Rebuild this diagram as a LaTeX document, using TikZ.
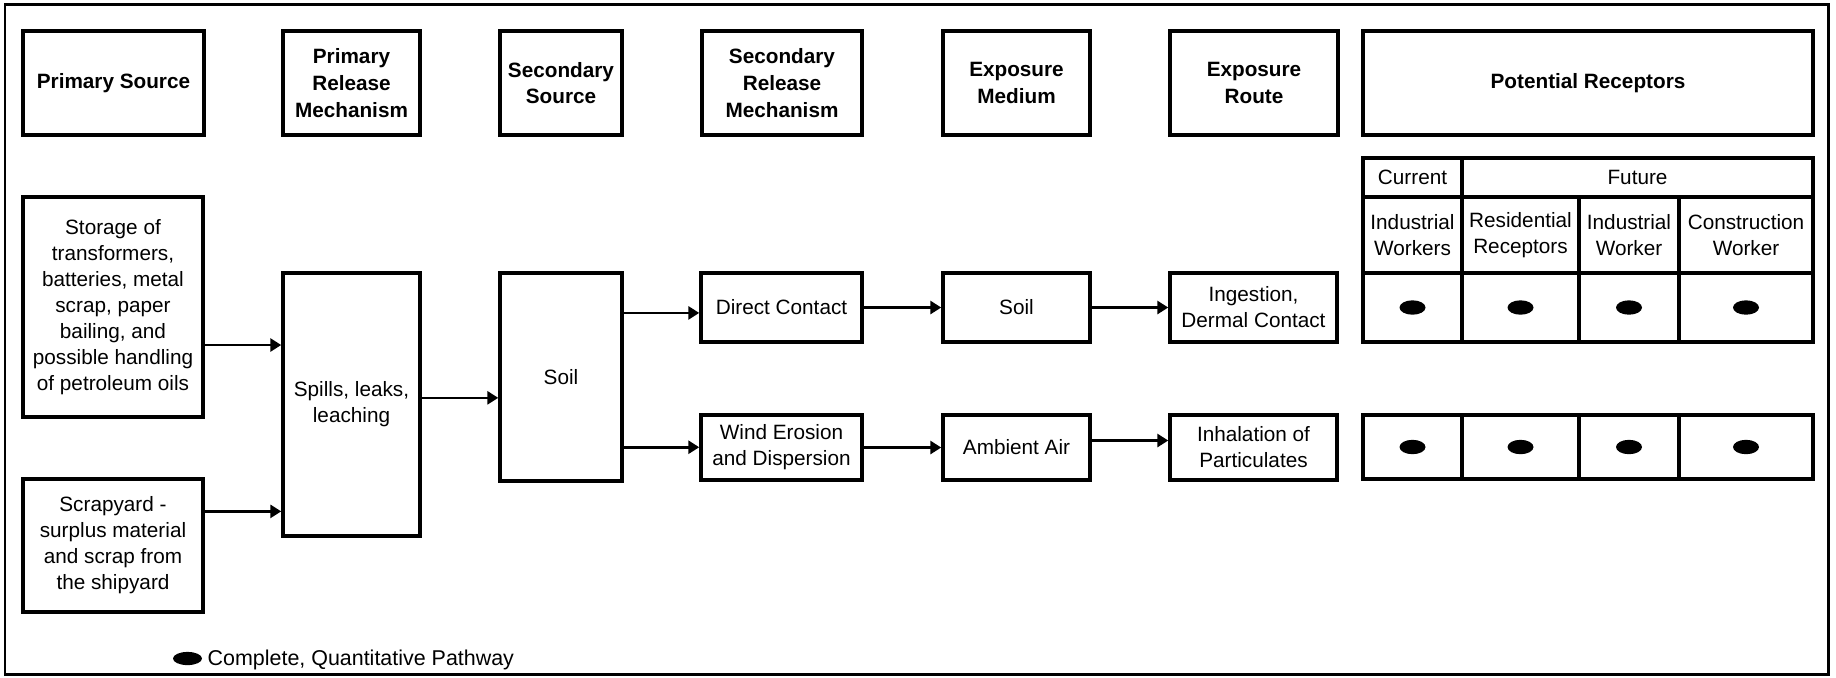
\documentclass[tikz,border=0pt]{standalone}
\usepackage{fontspec}
\setmainfont{Liberation Sans}
\usetikzlibrary{arrows.meta,calc}

\tikzset{
	box/.style={draw, line width=1pt, align=center, inner sep=0pt,
		font=\fontsize{5.9}{7.4}\selectfont},
	head/.style={box, font=\fontsize{5.9}{7.6}\selectfont\bfseries},
	arr/.style={-{Triangle[length=3.1pt,width=3.7pt]}, line width=0.75pt},
}

\begin{document}
\begin{tikzpicture}

	% sizes
	\def\hy{-0.83}  % header row
	\def\hh{1.04cm} % header height
	\def\ra{-3.075} % upper pathway
	\def\rb{-4.475} % lower pathway

	\useasboundingbox (0,0) rectangle (18.36,-6.77);

	% frame
	\draw[line width=0.85pt] (0.05,-0.04) rectangle (18.28,-6.745);

	% column headers
	\node[head, minimum width=1.81cm, minimum height=\hh] (hps) at (1.135,\hy) {Primary Source};
	\node[head, minimum width=1.37cm, minimum height=\hh] (hprm) at (3.515,\hy) {Primary\\Release\\Mechanism};
	\node[head, minimum width=1.22cm, minimum height=\hh] (hss) at (5.61,\hy) {Secondary\\Source};
	\node[head, minimum width=1.60cm, minimum height=\hh] (hsrm) at (7.82,\hy) {Secondary\\Release\\Mechanism};
	\node[head, minimum width=1.47cm, minimum height=\hh] (hem) at (10.165,\hy) {Exposure\\Medium};
	\node[head, minimum width=1.68cm, minimum height=\hh] (her) at (12.54,\hy) {Exposure\\Route};
	\node[head, minimum width=4.50cm, minimum height=\hh] (hpr) at (15.88,\hy) {Potential Receptors};

	% sources and release
	\node[box, minimum width=1.80cm, minimum height=2.20cm] (storage) at (1.13,-3.07)
		{Storage of\\transformers,\\batteries, metal\\scrap, paper\\bailing, and\\possible handling\\of petroleum oils};
	\node[box, minimum width=1.80cm, minimum height=1.33cm] (scrap) at (1.13,-5.455)
		{Scrapyard -\\surplus material\\and scrap from\\the shipyard};
	\node[box, minimum width=1.37cm, minimum height=2.63cm] (spills) at (3.515,-4.045) {Spills, leaks,\\leaching};
	\node[box, minimum width=1.22cm, minimum height=2.08cm] (soil) at (5.61,-3.77) {Soil};

	% pathways
	\node[box, minimum width=1.61cm, minimum height=0.69cm] (direct) at (7.815,\ra) {Direct Contact};
	\node[box, minimum width=1.61cm, minimum height=0.65cm] (wind) at (7.815,\rb) {Wind Erosion\\and Dispersion};
	\node[box, minimum width=1.47cm, minimum height=0.69cm] (msoil) at (10.165,\ra) {Soil};
	\node[box, minimum width=1.47cm, minimum height=0.65cm] (air) at (10.165,\rb) {Ambient Air};
	\node[box, minimum width=1.67cm, minimum height=0.69cm] (ingest) at (12.535,\ra) {Ingestion,\\Dermal Contact};
	\node[box, minimum width=1.67cm, minimum height=0.65cm] (inhal) at (12.535,\rb) {Inhalation of\\Particulates};

	% arrows
	\coordinate (a1) at ($(storage.north east)!0.67!(storage.south east)$);
	\coordinate (a2) at ($(scrap.north east)!0.25!(scrap.south east)$);
	\coordinate (a3) at ($(spills.north east)!0.475!(spills.south east)$);
	\coordinate (a4) at ($(soil.north east)!0.197!(soil.south east)$);
	\coordinate (a5) at ($(soil.north east)!0.832!(soil.south east)$);
	\coordinate (a6) at ([yshift=0.07cm]air.east);
	\draw[arr] (a1) -- (a1 -| spills.west);
	\draw[arr] (a2) -- (a2 -| spills.west);
	\draw[arr] (a3) -- (a3 -| soil.west);
	\draw[arr] (a4) -- (a4 -| direct.west);
	\draw[arr] (a5) -- (a5 -| wind.west);
	\draw[arr] (direct) -- (msoil);
	\draw[arr] (msoil) -- (ingest);
	\draw[arr] (wind) -- (air);
	\draw[arr] (a6) -- (a6 -| inhal.west);

	% receptor table
	\node[box, minimum width=0.99cm, minimum height=0.39cm] (cur) at (14.125,-1.775) {Current};
	\node[box, minimum width=3.51cm, minimum height=0.39cm] (fut) at (16.375,-1.775) {Future};
	\node[box, minimum width=0.99cm, minimum height=0.76cm] (iw) at (14.125,-2.35) {Industrial\\Workers};
	\node[box, minimum width=1.17cm, minimum height=0.76cm] (rr) at (15.205,-2.35) {Residential\\Receptors};
	\node[box, minimum width=1.00cm, minimum height=0.76cm] (iwf) at (16.29,-2.35) {Industrial\\Worker};
	\node[box, minimum width=1.34cm, minimum height=0.76cm] (cw) at (17.46,-2.35) {Construction\\Worker};

	% pathway cells with dots
	\foreach \n/\x/\w in {iw/14.125/0.99, rr/15.205/1.17, iwf/16.29/1.00, cw/17.46/1.34} {
		\node[box, minimum width=\w cm, minimum height=0.69cm] (\n a) at (\x,\ra) {};
		\node[box, minimum width=\w cm, minimum height=0.64cm] (\n b) at (\x,-4.47) {};
		\fill (\n a.center) ellipse (0.13 and 0.072);
		\fill (\n b.center) ellipse (0.13 and 0.072);
	}

	% legend
	\fill (1.875,-6.585) ellipse (0.145 and 0.066);
	\node[anchor=west, inner sep=0pt, font=\fontsize{6.1}{7.4}\selectfont] (legend) at (2.07,-6.60)
		{Complete, Quantitative Pathway};

\end{tikzpicture}
\end{document}
